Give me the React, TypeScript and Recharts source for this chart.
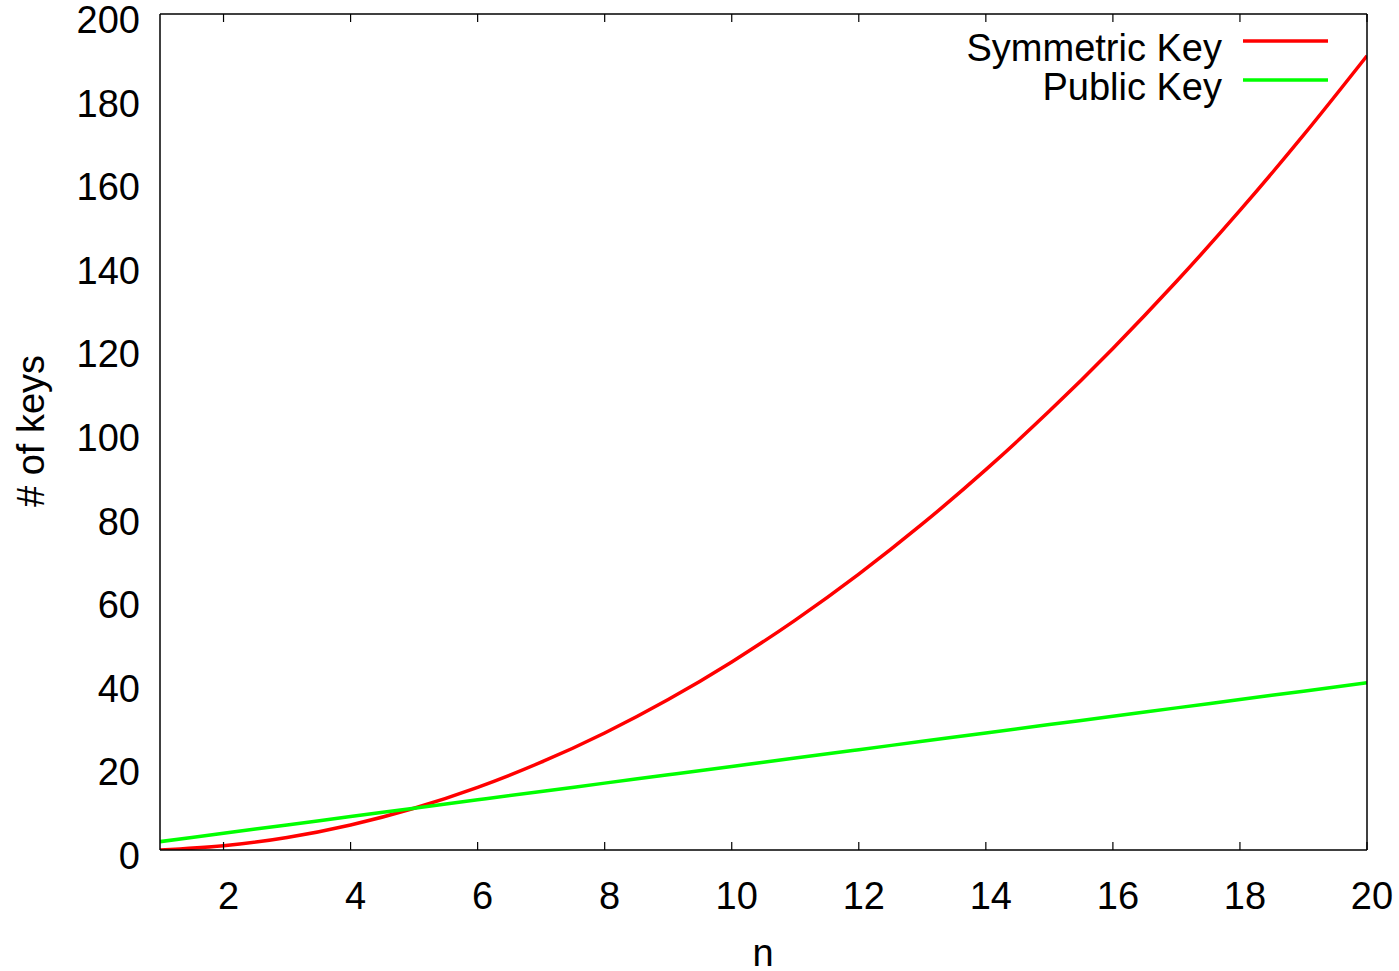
import React from 'react';
import { LineChart, Line, XAxis, YAxis, Legend } from 'recharts';

const nValues = [1, 2, 3, 4, 5, 6, 7, 8, 9, 10, 11, 12, 13, 14, 15, 16, 17, 18, 19, 20];
const symmetricKeys = [0, 1, 3, 6, 10, 15, 21, 28, 36, 45, 55, 66, 78, 91, 105, 120, 136, 153, 171, 190];
const publicKeys = [2, 4, 6, 8, 10, 12, 14, 16, 18, 20, 22, 24, 26, 28, 30, 32, 34, 36, 38, 40];
const xTicks = [2, 4, 6, 8, 10, 12, 14, 16, 18, 20];
const yTicks = [0, 20, 40, 60, 80, 100, 120, 140, 160, 180, 200];
const seriesNames = ['Symmetric Key', 'Public Key'];
const seriesColors = ['#ff0000', '#00ff00'];

const data = nValues.map((n, i) => ({ n, sym: symmetricKeys[i], pub: publicKeys[i] }));

const FONT = 'Liberation Sans, Arial, Helvetica, sans-serif';
const FS = 38;

const XTick = (props: any) => {
  const { x, y, payload } = props;
  return (
    <text x={x + 5} y={y + 59} textAnchor="middle" fontFamily={FONT} fontSize={FS} fill="#000">
      {payload.value}
    </text>
  );
};

const YTick = (props: any) => {
  const { y, payload } = props;
  return (
    <text x={140} y={y + 19} textAnchor="end" fontFamily={FONT} fontSize={FS} fill="#000">
      {payload.value}
    </text>
  );
};

const NoLabel = () => <g />;

const LegendContent = () => (
  <svg width={1399} height={120} style={{ display: 'block' }}>
    {seriesNames.map((name, i) => (
      <g key={name}>
        <text x={1222} y={61 + i * 39} textAnchor="end" fontFamily={FONT} fontSize={FS} fill="#000">
          {name}
        </text>
        <line x1={1243} x2={1328} y1={41 + i * 39} y2={41 + i * 39} stroke={seriesColors[i]} strokeWidth={3.5} />
      </g>
    ))}
  </svg>
);

export default function App() {
  return (
    <div style={{ position: 'absolute', left: 0, top: 0, width: 1399, height: 971, background: '#fff', overflow: 'hidden' }}>
      <LineChart width={1399} height={971} data={data} margin={{ top: 14, right: 32, left: 0, bottom: 0 }}>
        <XAxis
          xAxisId="b"
          dataKey="n"
          type="number"
          domain={[1, 20]}
          ticks={xTicks}
          orientation="bottom"
          height={121}
          tickLine={false}
          tickSize={0}
          tickMargin={0}
          axisLine={{ stroke: '#000', strokeWidth: 1.5 }}
          tick={<XTick />}
          allowDataOverflow
          label={{
            content: () => (
              <text x={763} y={966} textAnchor="middle" fontFamily={FONT} fontSize={FS} fill="#000">n</text>
            ),
          }}
        />
        <XAxis
          xAxisId="bm"
          dataKey="n"
          type="number"
          domain={[1, 20]}
          ticks={xTicks}
          orientation="bottom"
          mirror
          tick={<NoLabel />}
          tickSize={8}
          tickLine={{ stroke: '#000', strokeWidth: 1.2 }}
          axisLine={false}
        />
        <XAxis
          xAxisId="t"
          dataKey="n"
          type="number"
          domain={[1, 20]}
          ticks={xTicks}
          orientation="top"
          mirror
          tick={<NoLabel />}
          tickSize={8}
          tickLine={{ stroke: '#000', strokeWidth: 1.2 }}
          axisLine={{ stroke: '#000', strokeWidth: 1.5 }}
        />
        <YAxis
          yAxisId="l"
          type="number"
          domain={[0, 200]}
          ticks={yTicks}
          orientation="left"
          width={160}
          tickLine={false}
          tickSize={0}
          tickMargin={0}
          axisLine={{ stroke: '#000', strokeWidth: 1.5 }}
          tick={<YTick />}
          allowDataOverflow
          label={{
            content: () => (
              <text transform="translate(44,431) rotate(-90)" textAnchor="middle" fontFamily={FONT} fontSize={FS} fill="#000"># of keys</text>
            ),
          }}
        />
        <YAxis
          yAxisId="lm"
          type="number"
          domain={[0, 200]}
          ticks={yTicks}
          orientation="left"
          mirror
          tick={<NoLabel />}
          tickSize={9}
          tickLine={{ stroke: '#000', strokeWidth: 1.2 }}
          axisLine={false}
        />
        <YAxis
          yAxisId="r"
          type="number"
          domain={[0, 200]}
          ticks={yTicks}
          orientation="right"
          mirror
          tick={<NoLabel />}
          tickSize={9}
          tickLine={{ stroke: '#000', strokeWidth: 1.2 }}
          axisLine={{ stroke: '#000', strokeWidth: 1.5 }}
        />
        <Legend
          layout="horizontal"
          verticalAlign="middle"
          align="center"
          wrapperStyle={{ position: 'absolute', left: 0, top: 0, width: 1399, height: 120 }}
          content={<LegendContent />}
        />
        <Line
          xAxisId="b"
          yAxisId="l"
          dataKey="sym"
          name={seriesNames[0]}
          type="monotone"
          stroke={seriesColors[0]}
          strokeWidth={3.5}
          dot={false}
          isAnimationActive={false}
        />
        <Line
          xAxisId="b"
          yAxisId="l"
          dataKey="pub"
          name={seriesNames[1]}
          type="monotone"
          stroke={seriesColors[1]}
          strokeWidth={3.5}
          dot={false}
          isAnimationActive={false}
        />
      </LineChart>
    </div>
  );
}
